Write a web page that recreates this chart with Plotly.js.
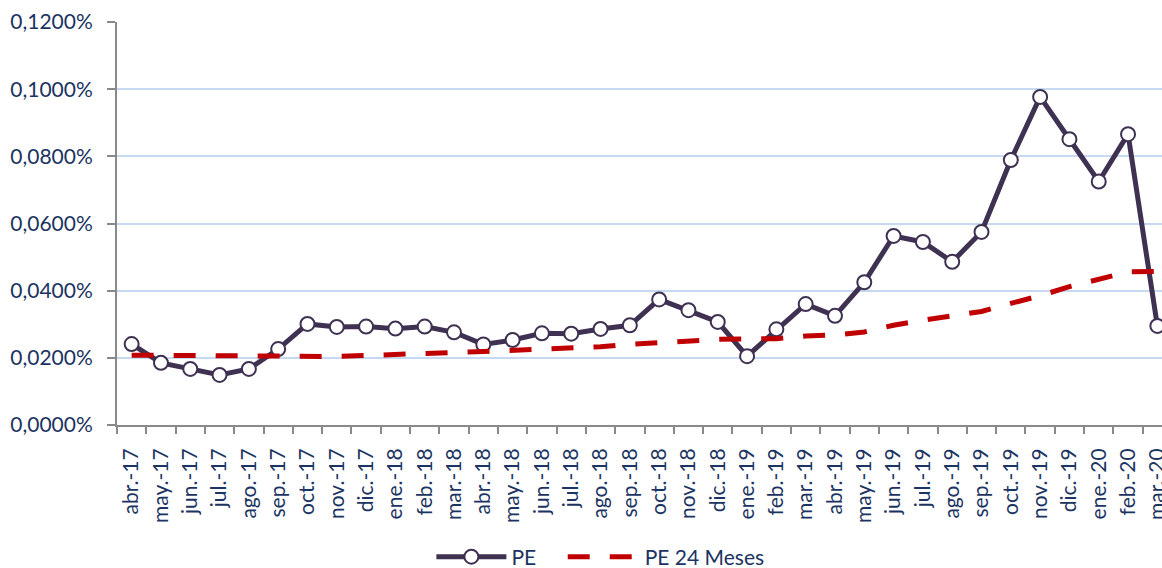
<!DOCTYPE html>
<html>
<head>
<meta charset="utf-8">
<script src="https://cdn.plot.ly/plotly-3.0.1.min.js"></script>
<style>
html, body { margin: 0; padding: 0; overflow: hidden; background: #ffffff; }
#chart { width: 1175px; height: 568px; }
</style>
</head>
<body>
<div id="chart"></div>
<script>
const categories = ["abr.-17","may.-17","jun.-17","jul.-17","ago.-17","sep.-17","oct.-17","nov.-17","dic.-17",
  "ene.-18","feb.-18","mar.-18","abr.-18","may.-18","jun.-18","jul.-18","ago.-18","sep.-18","oct.-18","nov.-18","dic.-18",
  "ene.-19","feb.-19","mar.-19","abr.-19","may.-19","jun.-19","jul.-19","ago.-19","sep.-19","oct.-19","nov.-19","dic.-19",
  "ene.-20","feb.-20","mar.-20"];

// values in percent
const pe = [0.0241,0.0185,0.0167,0.0149,0.0167,0.0226,0.0301,0.0292,0.0293,
  0.0287,0.0293,0.0276,0.0240,0.0253,0.0273,0.0272,0.0286,0.0297,0.0374,0.0342,0.0307,
  0.0205,0.0285,0.0360,0.0325,0.0425,0.0563,0.0545,0.0486,0.0575,0.0789,0.0977,0.0851,
  0.0725,0.0866,0.0295];

const pe24 = [0.0208,0.0207,0.0206,0.0205,0.0204,0.0203,0.0203,0.0204,0.0207,
  0.0211,0.0214,0.0216,0.0219,0.0222,0.0225,0.0229,0.0233,0.0240,0.0245,0.0251,0.0255,
  0.0256,0.0257,0.0265,0.0268,0.0277,0.0297,0.0312,0.0326,0.0338,0.0362,0.0385,0.0412,
  0.0434,0.0456,0.0457];

const yTicks = [0, 0.02, 0.04, 0.06, 0.08, 0.10, 0.12];
const yTickLabels = ["0,0000%","0,0200%","0,0400%","0,0600%","0,0800%","0,1000%","0,1200%"];

const labelColor = "#1B3461";
const fontFamily = "Lato, 'Noto Sans', sans-serif";
const fsize = 21;

const traces = [
  {
    x: categories, y: pe, name: "PE", type: "scatter", mode: "lines+markers",
    line: { color: "#3F3151", width: 5 },
    marker: { symbol: "circle", size: 14, color: "#ffffff", line: { color: "#3F3151", width: 2 } },
    cliponaxis: false, legend: "legend"
  },
  {
    x: categories, y: pe24, name: "PE 24 Meses", type: "scatter", mode: "lines",
    line: { color: "#C00000", width: 5, dash: "22px,20px" }, legend: "legend2"
  }
];

const layout = {
  width: 1175, height: 568,
  margin: { l: 117, r: 3, t: 22, b: 143, autoexpand: false },
  paper_bgcolor: "#ffffff", plot_bgcolor: "#ffffff",
  font: { family: fontFamily, size: fsize, color: labelColor },
  showlegend: true,
  legend: {
    orientation: "h", x: 0.298, xanchor: "left", y: -0.3275, yanchor: "middle",
    font: { family: fontFamily, size: fsize, color: labelColor },
    itemwidth: 70, bgcolor: "rgba(0,0,0,0)"
  },
  legend2: {
    orientation: "h", x: 0.4225, xanchor: "left", y: -0.3275, yanchor: "middle",
    font: { family: fontFamily, size: fsize, color: labelColor },
    itemwidth: 72, bgcolor: "rgba(0,0,0,0)"
  },
  xaxis: {
    type: "category", range: [-0.5, 35.5],
    showline: true, linecolor: "#898989", linewidth: 2,
    ticks: "outside", ticklen: 7, tickcolor: "#898989", tickwidth: 2,
    tickson: "boundaries",
    tickangle: -90, ticklabelstandoff: 13,
    showgrid: false, zeroline: false,
    tickfont: { family: fontFamily, size: fsize, color: labelColor }
  },
  yaxis: {
    range: [0, 0.12], tickvals: yTicks, ticktext: yTickLabels, tickmode: "array",
    showline: true, linecolor: "#898989", linewidth: 2,
    ticks: "outside", ticklen: 8, tickcolor: "#898989", tickwidth: 2,
    showgrid: true, gridcolor: "#C6D9F1", gridwidth: 2,
    zeroline: false, ticklabelstandoff: 10,
    tickfont: { family: fontFamily, size: fsize, color: labelColor }
  }
};

Plotly.newPlot("chart", traces, layout, { displayModeBar: false, staticPlot: true });
</script>
</body>
</html>
